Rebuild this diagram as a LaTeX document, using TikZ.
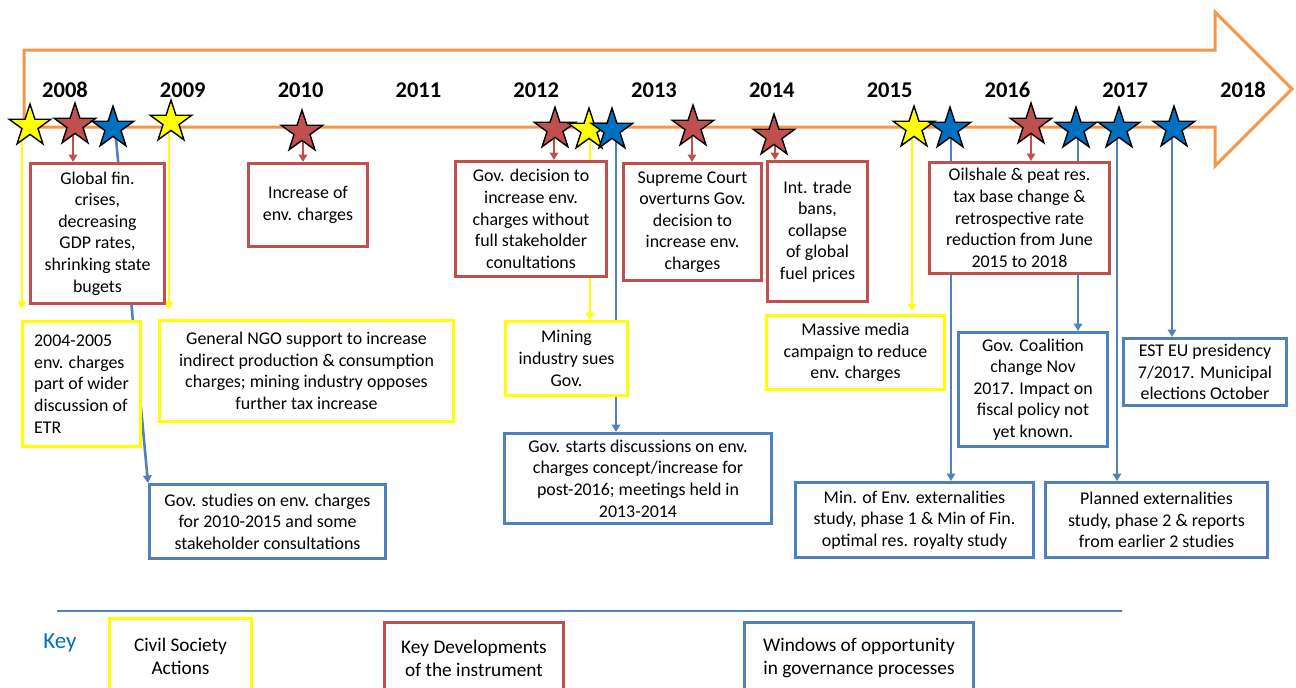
\documentclass[tikz,border=0pt]{standalone}
\usepackage{fontspec}
\setmainfont{Carlito}
\usetikzlibrary{shapes.geometric,arrows.meta}
\definecolor{ored}{HTML}{C0504D}
\definecolor{oblue}{HTML}{4F81BD}
\definecolor{sblue}{HTML}{0070C0}
\definecolor{oorange}{HTML}{F79646}
\definecolor{oyellow}{HTML}{FFFF00}
\pgfdeclarelayer{bg}
\pgfsetlayers{bg,main}
\newcommand{\vconn}[4]{\coordinate (tmpc) at ([xshift=#3]#2.center); \draw[#1] (tmpc) -- (tmpc |- #4.north);}
\begin{document}
\begin{tikzpicture}[x=1pt,y=-1pt,
  box/.style={draw, line width=3pt, fill=white, inner sep=0pt, align=center, anchor=north west, font=\fontsize{17.9}{21.6}\selectfont},
  rbox/.style={box, draw=ored},
  ybox/.style={box, draw=oyellow},
  bbox/.style={box, draw=oblue},
  keybox/.style={font=\fontsize{19.3}{23}\selectfont},
  st/.style={star, star points=5, star point ratio=2.618, minimum size=44pt, inner sep=0pt, draw=black, line width=1.4pt},
  rst/.style={st, fill=ored},
  yst/.style={st, fill=oyellow},
  bst/.style={st, fill=sblue},
  conn/.style={line width=2.6pt, -{Triangle[width=8.5pt,length=7.5pt]}},
  rc/.style={conn, draw=ored, fill=ored},
  yc/.style={conn, draw=oyellow, fill=oyellow},
  bc/.style={conn, draw=oblue, fill=oblue},
  year/.style={font=\fontsize{22.5}{27}\selectfont\bfseries, anchor=base, inner sep=0pt},
  bigarrow/.style={draw=oorange, line width=3pt, line join=miter}
]
\path[use as bounding box] (0,0) rectangle (1296,688);
\clip (0,0) rectangle (1296,688);

% years
\foreach \y [count=\i from 0] in {2008,2009,2010,2011,2012,2013,2014,2015,2016,2017,2018}
  \node[year] (y\y) at ({65+117.8*\i},97) {\y};

% boxes
\node[rbox, minimum width=134pt, minimum height=140pt] (bGlobal) at (29,162) {Global fin.\\crises,\\decreasing\\GDP rates,\\shrinking state\\bugets};
\node[ybox, minimum width=118pt, minimum height=125pt, align=left] (b2004) at (21,320) {2004-2005\\env. charges\\part of wider\\discussion of\\ETR};
\node[ybox, minimum width=294pt, minimum height=101pt] (bNGO) at (158,319) {General NGO support to increase\\indirect production \& consumption\\charges; mining industry opposes\\further tax increase};
\node[bbox, minimum width=236pt, minimum height=74pt] (bGovStud) at (148,483) {Gov. studies on env. charges\\for 2010-2015 and some\\stakeholder consultations};
\node[rbox, minimum width=119pt, minimum height=83pt] (bIncr) at (247,162) {Increase of\\env. charges};
\node[rbox, minimum width=151pt, minimum height=115pt] (bGovDec) at (454,160) {Gov. decision to\\increase env.\\charges without\\full stakeholder\\conultations};
\node[ybox, minimum width=122pt, minimum height=74pt] (bMining) at (504,320) {Mining\\industry sues\\Gov.};
\node[bbox, minimum width=267pt, minimum height=90pt] (bGovStart) at (503,432) {Gov. starts discussions on env.\\charges concept/increase for\\post-2016; meetings held in\\2013-2014};
\node[rbox, minimum width=138pt, minimum height=117pt] (bSupreme) at (622,162) {Supreme Court\\overturns Gov.\\decision to\\increase env.\\charges};
\node[rbox, minimum width=100pt, minimum height=140pt] (bTrade) at (766,160) {Int. trade\\bans,\\collapse\\of global\\fuel prices};
\node[ybox, minimum width=178pt, minimum height=74pt] (bMedia) at (765,314) {Massive media\\campaign to reduce\\env. charges};
\node[rbox, minimum width=180pt, minimum height=111pt] (bOil) at (928,161) {Oilshale \& peat res.\\tax base change \&\\retrospective rate\\reduction from June\\2015 to 2018};
\node[bbox, minimum width=149pt, minimum height=114pt] (bCoal) at (957,331) {Gov. Coalition\\change Nov\\2017. Impact on\\fiscal policy not\\yet known.};
\node[bbox, minimum width=163pt, minimum height=67pt] (bEST) at (1122,337) {EST EU presidency\\7/2017. Municipal\\elections October};
\node[bbox, minimum width=238pt, minimum height=75pt] (bMinEnv) at (794,481) {Min. of Env. externalities\\study, phase 1 \& Min of Fin.\\optimal res. royalty study};
\node[bbox, minimum width=222pt, minimum height=75pt] (bPlanned) at (1044,481) {Planned externalities\\study, phase 2 \& reports\\from earlier 2 studies};

% stars
\node[yst] (s1) at (30,126) {};
\node[rst] (s2) at (75,125) {};
\node[bst] (s3) at (113,128) {};
\node[yst] (s4) at (171,122) {};
\node[rst] (s5) at (302,132) {};
\node[rst] (s6) at (555,129) {};
\node[yst] (s7) at (589,130) {};
\node[bst] (s8) at (612,130) {};
\node[rst] (s9) at (693,127) {};
\node[rst] (s10) at (774,136) {};
\node[yst] (s11) at (914,128) {};
\node[bst] (s12) at (950,129) {};
\node[rst] (s13) at (1031,125) {};
\node[bst] (s14) at (1076,129) {};
\node[bst] (s15) at (1119,129) {};
\node[bst] (s16) at (1174,128) {};

% legend
\coordinate (kl) at (57,611);
\coordinate (kr) at (1122,611);
\draw[oblue, line width=1.5pt] (kl) -- (kr);
\node[text=sblue, font=\fontsize{23}{27}\selectfont, anchor=center, inner sep=0pt] (key) at (60,643) {Key};
\node[ybox, keybox, minimum width=142pt, minimum height=75pt] (kY) at (108,617) {Civil Society\\Actions};
\node[rbox, keybox, minimum width=179pt, minimum height=71pt] (kR) at (383,621) {Key Developments\\of the instrument};
\node[bbox, keybox, minimum width=229pt, minimum height=71pt] (kB) at (743,621) {Windows of opportunity\\in governance processes};

\begin{pgfonlayer}{bg}
\draw[bigarrow] (24,50) -- (1215,50) -- (1215,12) -- (1292,89) -- (1215,166) -- (1215,127) -- (24,127) -- cycle;
\vconn{yc, shorten >=11pt}{s1}{-8pt}{b2004}
\vconn{rc}{s2}{-2pt}{bGlobal}
\coordinate (s3c) at ([xshift=2pt]s3.center);
\draw[bc] (s3c) -- (bGovStud.north west);
\vconn{yc, shorten >=10pt}{s4}{-2pt}{bNGO}
\vconn{rc}{s5}{1pt}{bIncr}
\vconn{rc}{s6}{-1pt}{bGovDec}
\vconn{yc}{s7}{1pt}{bMining}
\vconn{bc}{s8}{4pt}{bGovStart}
\vconn{rc}{s9}{-1pt}{bSupreme}
\vconn{rc}{s10}{1pt}{bTrade}
\vconn{yc, shorten >=3pt}{s11}{-2pt}{bMedia}
\vconn{bc}{s12}{1pt}{bMinEnv}
\vconn{rc}{s13}{0pt}{bOil}
\vconn{bc}{s14}{2pt}{bCoal}
\vconn{bc}{s15}{-2pt}{bPlanned}
\vconn{bc}{s16}{-2pt}{bEST}
\end{pgfonlayer}
\end{tikzpicture}
\end{document}
